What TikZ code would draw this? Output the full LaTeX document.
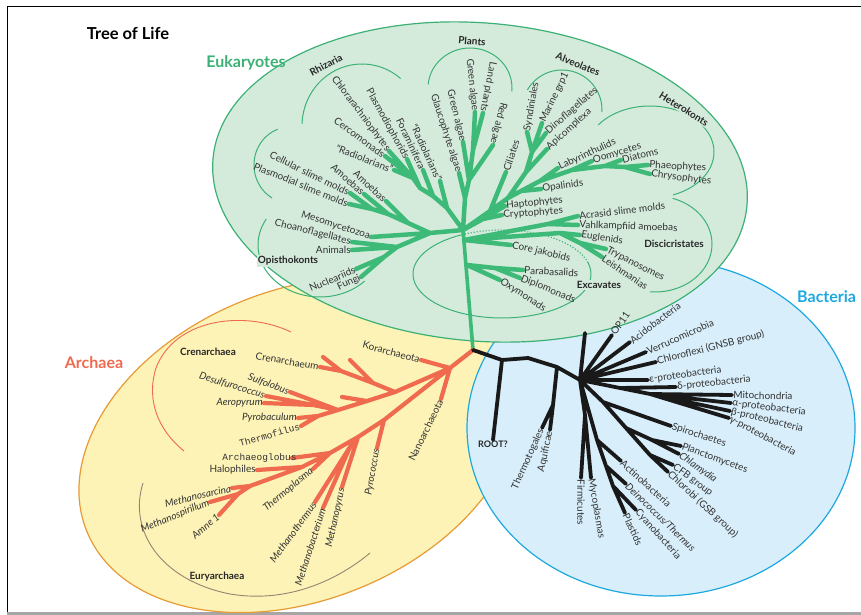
\documentclass[tikz,border=0pt]{standalone}
\usepackage{fontspec}
\setmainfont{Lato}
\newfontfamily\monof{Liberation Mono}
\definecolor{eukline}{HTML}{3DB075}
\definecolor{eukfill}{HTML}{D4EBDC}
\definecolor{eukbranch}{HTML}{3DBA78}
\definecolor{arcfill}{HTML}{FDF3B6}
\definecolor{arcline}{HTML}{E89A35}
\definecolor{arcbranch}{HTML}{EF6A4E}
\definecolor{bacfill}{HTML}{D8EEFA}
\definecolor{bacline}{HTML}{1EA8E0}
\definecolor{labcol}{HTML}{333333}
\definecolor{euryarc}{HTML}{9A8272}
\begin{document}
\begin{tikzpicture}[x=1pt,y=-1pt,
  eu/.style={draw=eukbranch, line width=4.5pt, line cap=round, line join=round},
  ar/.style={draw=arcbranch, line width=4.2pt, line cap=round, line join=round},
  ba/.style={draw=black!90, line width=3.8pt, line cap=round, line join=round},
  lab/.style={font=\fontsize{10}{12}\selectfont, text=labcol, inner sep=1.2pt},
  itl/.style={lab, font=\fontsize{10}{12}\selectfont\itshape},
  mono/.style={lab, font=\fontsize{9.5}{11}\selectfont\monof},
  grp/.style={font=\fontsize{10}{12}\selectfont\bfseries, text=black!85, inner sep=1pt},
  grparc/.style={draw=eukline, line width=1pt},
  dom/.style={font=\fontsize{16}{18}\selectfont\bfseries, inner sep=0pt}]
\path[use as bounding box] (0,0) rectangle (861,615);
\fill[white] (0,0) rectangle (861,615);
\draw[line width=1pt] (7,612) -- (7,7) -- (861,7);
\draw[gray!70, line width=3pt] (7,613.5) -- (861,613.5);

% domain ellipses
\filldraw[fill=arcfill, draw=arcline, line width=1.2pt, rotate around={22:(300,445)}] (300,445) ellipse [x radius=230pt, y radius=155pt];
\filldraw[fill=bacfill, draw=bacline, line width=1.2pt] (661,428) ellipse [x radius=194pt, y radius=168pt];
\filldraw[fill=eukfill, draw=eukline, line width=1.2pt, rotate around={-5:(480,182)}] (480,182) ellipse [x radius=268pt, y radius=159pt];

% group arcs (eukaryotes)
\draw[grparc] plot[variable=\t, domain=50:178, samples=40] ({362+60*cos(\t)},{126-62*sin(\t)});
\draw[grparc] plot[variable=\t, domain=110:240, samples=40] ({290+36*cos(\t)},{165-38*sin(\t)});
\draw[grparc] plot[variable=\t, domain=150:316, samples=40] ({320+62*cos(\t)},{245-52*sin(\t)});
\draw[grparc] plot[variable=\t, domain=-5:175, samples=40] ({470+42*cos(\t)},{88-40*sin(\t)});
\draw[grparc] plot[variable=\t, domain=-3:150, samples=40] ({562+40*cos(\t)},{110-40*sin(\t)});
\draw[grparc] plot[variable=\t, domain=-69:144, samples=50] ({650+64*cos(\t)},{152-46*sin(\t)});
\draw[grparc] plot[variable=\t, domain=-95:72, samples=50] ({655+57*cos(\t)},{244-48*sin(\t)});
\draw[grparc] plot[variable=\t, domain=116:375, samples=60] ({502+89*cos(\t)},{274-44*sin(\t)});
\draw[grparc, dotted, line width=1.3pt] plot[variable=\t, domain=15:116, samples=30] ({502+89*cos(\t)},{274-44*sin(\t)});

% group arcs (archaea)
\draw[draw=arcbranch, line width=0.9pt] (291,332) .. controls (245,310) and (175,318) .. (156,368) .. controls (146,400) and (158,430) .. (184,451);
\draw[draw=euryarc, line width=0.9pt] (143,483) .. controls (128,530) and (160,580) .. (230,594) .. controls (290,604) and (340,578) .. (370,553);

% ---------- coordinates: eukaryotes
\coordinate (J) at (473,350);
\coordinate (C) at (463,230);
\coordinate (A) at (430,233);
\coordinate (meso) at (371,237);
\coordinate (Op0) at (397,247);
\coordinate (choano) at (352,242);
\coordinate (animals) at (352,250);
\coordinate (Op1) at (384,257);
\coordinate (nucl) at (356,269);
\coordinate (fungi) at (361,277);
\coordinate (Am1) at (408,223);
\coordinate (amoA) at (386,201);
\coordinate (Am2) at (388,214);
\coordinate (amoB) at (364,194);
\coordinate (Am3) at (372,209);
\coordinate (cell) at (350,193);
\coordinate (plasmod) at (349,204);
\coordinate (R1) at (447,208);
\coordinate (radR) at (440,181);
\coordinate (R2) at (433,196);
\coordinate (foram) at (423,170);
\coordinate (R3) at (420,188);
\coordinate (plasmo) at (407,159);
\coordinate (R4) at (413,178);
\coordinate (chlor) at (389,151);
\coordinate (cerco) at (385,156);
\coordinate (radL) at (394,170);
\coordinate (P0) at (465,198);
\coordinate (glauco) at (459,173);
\coordinate (P1) at (469,180);
\coordinate (greenL) at (463,142);
\coordinate (red) at (493,145);
\coordinate (P2) at (473,150);
\coordinate (greenU) at (475,112);
\coordinate (land) at (483,113);
\coordinate (Hc) at (483,219);
\coordinate (hapto) at (505,206);
\coordinate (crypto) at (502,215);
\coordinate (H0) at (490,211);
\coordinate (cil) at (506,172);
\coordinate (H1) at (508,198);
\coordinate (Hm) at (521,191);
\coordinate (opal) at (541,189);
\coordinate (H2) at (540,181);
\coordinate (laby) at (558,168);
\coordinate (H3) at (572,170);
\coordinate (oomy) at (592,161);
\coordinate (H4) at (605,166);
\coordinate (diat) at (621,160);
\coordinate (H5) at (625,167);
\coordinate (phaeo) at (648,165);
\coordinate (chryso) at (650,174);
\coordinate (Al1) at (526,172);
\coordinate (apico) at (547,149);
\coordinate (Al2) at (532,152);
\coordinate (dino) at (546,133);
\coordinate (synd) at (527,132);
\coordinate (marine) at (542,123);
\coordinate (D0) at (464,240);
\coordinate (D1) at (548,224);
\coordinate (acr) at (578,216);
\coordinate (vahl) at (578,225);
\coordinate (D2) at (560,233);
\coordinate (eugl) at (580,235);
\coordinate (D3) at (580,243);
\coordinate (tryp) at (606,249);
\coordinate (leish) at (602,257);
\coordinate (jak) at (511,245);
\coordinate (E0) at (467,265);
\coordinate (E1) at (495,268);
\coordinate (parab) at (523,270);
\coordinate (diplo) at (520,278);
\coordinate (oxy) at (500,280);
% ---------- archaea
\coordinate (K0) at (450,368);
\coordinate (kor) at (421,360);
\coordinate (nano) at (441,399);
\coordinate (Cm1) at (395,392);
\coordinate (Cm2) at (367,401);
\coordinate (Cm3) at (338,410);
\coordinate (Cm4) at (318,416);
\coordinate (pyrob) at (298,418);
\coordinate (thermof) at (301,426);
\coordinate (sulf) at (290,392);
\coordinate (Cs) at (313,405);
\coordinate (desulf) at (266,396);
\coordinate (aero) at (264,403);
\coordinate (cx1) at (342,397);
\coordinate (Cc0) at (373,383);
\coordinate (Cc1) at (341,371);
\coordinate (cren) at (320,367);
\coordinate (cx2) at (350,360);
\coordinate (cx3) at (323,357);
\coordinate (Eu1) at (384,420);
\coordinate (Eu2) at (358,437);
\coordinate (Eu3) at (330,453);
\coordinate (Eu4) at (302,467);
\coordinate (Eu5) at (250,486);
\coordinate (pyroc) at (377,448);
\coordinate (mpyr) at (342,487);
\coordinate (Eu2b) at (350,447);
\coordinate (mbact) at (323,508);
\coordinate (mtherm) at (315,502);
\coordinate (tplas) at (313,469);
\coordinate (aglob) at (292,458);
\coordinate (aglobt) at (298,458);
\coordinate (halo) at (257,470);
\coordinate (msarc) at (232,488);
\coordinate (Eu6) at (238,494);
\coordinate (mspir) at (210,502);
\coordinate (amne) at (219,515);
% ---------- bacteria
\coordinate (Bb1) at (502,360);
\coordinate (Bb2) at (528,358);
\coordinate (Ba1) at (557,367);
\coordinate (B0) at (580,380);
\coordinate (root) at (493,440);
\coordinate (Ba2) at (553,405);
\coordinate (thermot) at (542,428);
\coordinate (aquif) at (550,430);
\coordinate (bx) at (585,333);
\coordinate (op11) at (612,335);
\coordinate (acido) at (630,342);
\coordinate (verru) at (646,352);
\coordinate (chlorof) at (656,362);
\coordinate (eps) at (648,380);
\coordinate (Pd) at (620,388);
\coordinate (delta) at (676,387);
\coordinate (Pa) at (650,394);
\coordinate (mito) at (732,395);
\coordinate (alpha) at (731,403);
\coordinate (beta) at (730,411);
\coordinate (gamma) at (729,418);
\coordinate (Bs) at (603,402);
\coordinate (spiro) at (671,426);
\coordinate (Bq) at (626,428);
\coordinate (Bp1) at (652,440);
\coordinate (plancto) at (681,446);
\coordinate (chlam) at (679,454);
\coordinate (Bc) at (650,455);
\coordinate (cfb) at (673,465);
\coordinate (chlorobi) at (668,472);
\coordinate (Bf) at (585,415);
\coordinate (firm) at (581,478);
\coordinate (myco) at (591,478);
\coordinate (Bd0) at (597,440);
\coordinate (actino) at (621,461);
\coordinate (Bd1) at (606,466);
\coordinate (deino) at (626,484);
\coordinate (Bd2) at (613,486);
\coordinate (cyano) at (636,510);
\coordinate (plastid) at (625,513);

% ---------- branches
\draw[eu, line width=3.6pt] (J)--(C);
\draw[eu] (C)--(A) (A)--(meso) (A)--(Op0) (Op0)--(choano) (Op0)--(animals) (Op0)--(Op1) (Op1)--(nucl) (Op1)--(fungi)
 (A)--(Am1) (Am1)--(amoA) (Am1)--(Am2) (Am2)--(amoB) (Am2)--(Am3) (Am3)--(cell) (Am3)--(plasmod)
 (C)--(R1) (R1)--(radR) (R1)--(R2) (R2)--(foram) (R2)--(R3) (R3)--(plasmo) (R3)--(R4) (R4)--(chlor) (R4)--(cerco) (R4)--(radL)
 (C)--(P0) (P0)--(glauco) (P0)--(P1) (P1)--(greenL) (P1)--(red) (P1)--(P2) (P2)--(greenU) (P2)--(land)
 (C)--(Hc) (Hc)--(hapto) (Hc)--(crypto)
 (C)--(H0) (H0)--(cil) (H0)--(H1) (H1)--(Al1) (Al1)--(apico) (Al1)--(Al2) (Al2)--(dino) (Al2)--(synd) (Al2)--(marine)
 (H1)--(Hm) (Hm)--(opal) (Hm)--(H2) (H2)--(laby) (H2)--(H3) (H3)--(oomy) (H3)--(H4) (H4)--(diat) (H4)--(H5) (H5)--(phaeo) (H5)--(chryso)
 (D0)--(D1) (D1)--(acr) (D1)--(vahl) (D0)--(D2) (D2)--(eugl) (D2)--(D3) (D3)--(tryp) (D3)--(leish)
 (D0)--(jak) (E0)--(E1) (E1)--(parab) (E1)--(diplo) (E0)--(oxy);

\draw[ar] (J)--(K0) (K0)--(kor) (K0)--(nano) (K0)--(Cm1) (Cm1)--(Cm2) (Cm2)--(Cm3) (Cm3)--(Cm4) (Cm4)--(pyrob) (Cm4)--(thermof)
 (Cm3)--(sulf) (Cm3)--(Cs) (Cs)--(desulf) (Cs)--(aero) (Cm2)--(cx1) (Cm1)--(Cc0) (Cc0)--(Cc1) (Cc1)--(cren) (Cc0)--(cx2) (Cc1)--(cx3)
 (K0)--(Eu1) (Eu1)--(Eu2) (Eu2)--(Eu3) (Eu3)--(Eu4) (Eu4)--(Eu5) (Eu1)--(pyroc) (Eu2)--(mpyr) (Eu2)--(Eu2b) (Eu2b)--(mbact) (Eu2b)--(mtherm)
 (Eu3)--(tplas) (Eu3)--(aglob) (Eu4)--(halo) (Eu5)--(msarc) (Eu5)--(Eu6) (Eu6)--(mspir) (Eu6)--(amne);

\draw[ba] (J)--(Bb1) (Bb1)--(Bb2) (Bb2)--(Ba1) (Ba1)--(B0) (Bb1)--(root) (Ba1)--(Ba2) (Ba2)--(thermot) (Ba2)--(aquif)
 (B0)--(bx) (B0)--(op11) (B0)--(acido) (B0)--(verru) (B0)--(chlorof) (B0)--(eps) (B0)--(Pd) (Pd)--(delta) (Pd)--(Pa)
 (Pa)--(mito) (Pa)--(alpha) (Pa)--(beta) (Pa)--(gamma)
 (B0)--(Bs) (Bs)--(spiro) (Bs)--(Bq) (Bq)--(Bp1) (Bp1)--(plancto) (Bp1)--(chlam) (Bq)--(Bc) (Bc)--(cfb) (Bc)--(chlorobi)
 (B0)--(Bf) (Bf)--(firm) (Bf)--(myco) (B0)--(Bd0) (Bd0)--(actino) (Bd0)--(Bd1) (Bd1)--(deino) (Bd1)--(Bd2) (Bd2)--(cyano) (Bd2)--(plastid);

% ---------- titles
\node[font=\fontsize{16.5}{18}\selectfont\bfseries, inner sep=0pt] (title) at (128,33) {Tree of Life};
\node[dom, text=eukline] (eukl) at (246,63) {Eukaryotes};
\node[dom, text=arcbranch] (arcl) at (94,363) {Archaea};
\node[dom, text=bacline, anchor=west] (bacl) at (797,297) {Bacteria};

% ---------- group labels
\node[grp, fill=eukfill, rotate=28] (gRhiz) at (326,65) {Rhizaria};
\node[grp, fill=eukfill, rotate=-5] (gPlants) at (472,41) {Plants};
\node[grp, fill=eukfill, rotate=-22] (gAlv) at (578,64) {Alveolates};
\node[grp, fill=eukfill, rotate=-32] (gHet) at (684,109) {Heterokonts};
\node[grp, fill=eukfill] (gDisc) at (674,244) {Discicristates};
\node[grp, fill=eukfill] (gExc) at (599,285) {Excavates};
\node[grp, fill=eukfill] (gOpi) at (288,261) {Opisthokonts};
\node[grp] (gCren) at (208,352) {Crenarchaea};
\node[grp] (gEury) at (217,577) {Euryarchaea};
\node[grp, font=\fontsize{9}{10}\selectfont\bfseries, anchor=north] (groot) at (root) {ROOT?};

% ---------- eukaryote labels
\node[lab, anchor=east, rotate=-18] at (meso) {Mesomycetozoa};
\node[lab, anchor=east, rotate=-14] at (choano) {Choanoflagellates};
\node[lab, anchor=east] at (animals) {Animals};
\node[lab, anchor=east, rotate=23] at (nucl) {Nucleariids};
\node[lab, anchor=east, rotate=25] at (fungi) {Fungi};
\node[lab, anchor=east, rotate=-43] at (amoA) {Amoebas};
\node[lab, anchor=east, rotate=-42] at (amoB) {Amoebas};
\node[lab, anchor=east, rotate=-26] at (cell) {Cellular slime molds};
\node[lab, anchor=east, rotate=-22] at (plasmod) {Plasmodial slime molds};
\node[lab, anchor=east, rotate=-65] at (radR) {``Radiolarians''};
\node[lab, anchor=east, rotate=-65] at (foram) {Foraminifera};
\node[lab, anchor=east, rotate=-61] at (plasmo) {Plasmodiophorids};
\node[lab, anchor=east, rotate=-53] at (chlor) {Chlorarachniophytes};
\node[lab, anchor=east, rotate=-36] at (cerco) {Cercomonads};
\node[lab, anchor=east, rotate=-21] at (radL) {``Radiolarians''};
\node[lab, anchor=east, rotate=-72] at (glauco) {Glaucophyte algae};
\node[lab, anchor=east, rotate=-76] at (greenL) {Green algae};
\node[lab, anchor=east, rotate=-84] at (greenU) {Green algae};
\node[lab, anchor=east, rotate=-101] at (land) {Land plants};
\node[lab, anchor=east, rotate=-104] at (red) {Red algae};
\node[lab, anchor=west, rotate=72] at (cil) {Ciliates};
\node[lab, anchor=west, rotate=80] at (synd) {Syndiniales};
\node[lab, anchor=west, rotate=64] at (marine) {Marine grp1};
\node[lab, anchor=west, rotate=41] at (dino) {Dinoflagellates};
\node[lab, anchor=west, rotate=42] at (apico) {Apicomplexa};
\node[lab, anchor=west, rotate=25] at (laby) {Labyrinthulids};
\node[lab, anchor=west, rotate=17] at (oomy) {Oomycetes};
\node[lab, anchor=west, rotate=14] at (diat) {Diatoms};
\node[lab, anchor=west, rotate=-3] at (phaeo) {Phaeophytes};
\node[lab, anchor=west, rotate=-7] at (chryso) {Chrysophytes};
\node[lab, anchor=west, rotate=8] at (opal) {Opalinids};
\node[lab, anchor=west, rotate=6] at (hapto) {Haptophytes};
\node[lab, anchor=west, rotate=4] at (crypto) {Cryptophytes};
\node[lab, anchor=west, rotate=7] at (acr) {Acrasid slime molds};
\node[lab, anchor=west, rotate=-2] at (vahl) {Vahlkampfiid amoebas};
\node[lab, anchor=west, rotate=-8] at (eugl) {Euglenids};
\node[lab, anchor=west, rotate=-27] at (tryp) {Trypanosomes};
\node[lab, anchor=west, rotate=-34] at (leish) {Leishmanias};
\node[lab, anchor=west, rotate=-13] at (jak) {Core jakobids};
\node[lab, anchor=west, rotate=-3] at (parab) {Parabasalids};
\node[lab, anchor=west, rotate=-22] at (diplo) {Diplomonads};
\node[lab, anchor=west, rotate=-33] at (oxy) {Oxymonads};

% ---------- archaea labels
\node[lab, anchor=east, rotate=-15] at (kor) {Korarchaeota};
\node[lab, anchor=east, rotate=64] at (nano) {Nanoarchaeota};
\node[lab, anchor=east, rotate=-10] at (cren) {Crenarchaeum};
\node[itl, anchor=east, rotate=-20] at (sulf) {Sulfolobus};
\node[itl, anchor=east, rotate=-17] at (desulf) {Desulfurococcus};
\node[itl, anchor=east] at (aero) {Aeropyrum};
\node[itl, anchor=east] at (pyrob) {Pyrobaculum};
\node[mono, anchor=east, rotate=16] at (thermof) {Thermofilus};
\node[itl, anchor=east, rotate=80] at (pyroc) {Pyrococcus};
\node[itl, anchor=east, rotate=78] at (mpyr) {Methanopyrus};
\node[itl, anchor=east, rotate=72] at (mbact) {Methanobacterium};
\node[itl, anchor=east, rotate=54] at (mtherm) {Methanothermus};
\node[itl, anchor=east, rotate=40] at (tplas) {Thermoplasma};
\node[mono, anchor=east] at (aglobt) {Archaeoglobus};
\node[lab, anchor=east] at (halo) {Halophiles};
\node[itl, anchor=east, rotate=13] at (msarc) {Methanosarcina};
\node[itl, anchor=east, rotate=22] at (mspir) {Methanospirillum};
\node[itl, anchor=east, rotate=40] at (amne) {Amne 1};

% ---------- bacteria labels
\node[lab, anchor=east, rotate=66] at (thermot) {Thermotogales};
\node[lab, anchor=east, rotate=78] at (aquif) {Aquificae};
\node[lab, anchor=west, rotate=55] at (op11) {OP11};
\node[lab, anchor=west, rotate=37] at (acido) {Acidobacteria};
\node[lab, anchor=west, rotate=24] at (verru) {Verrucomicrobia};
\node[lab, anchor=west, rotate=14.5] at (chlorof) {Chloroflexi (GNSB group)};
\node[lab, anchor=west, rotate=8] at (eps) {ε-proteobacteria};
\node[lab, anchor=west, rotate=6] at (delta) {δ-proteobacteria};
\node[lab, anchor=west, rotate=-1] at (mito) {Mitochondria};
\node[lab, anchor=west, rotate=-7] at (alpha) {α-proteobacteria};
\node[lab, anchor=west, rotate=-14] at (beta) {β-proteobacteria};
\node[lab, anchor=west, rotate=-28] at (gamma) {γ-proteobacteria};
\node[lab, anchor=west, rotate=-18] at (spiro) {Spirochaetes};
\node[lab, anchor=west, rotate=-20] at (plancto) {Planctomycetes};
\node[itl, anchor=west, rotate=-36] at (chlam) {Chlamydia};
\node[lab, anchor=west, rotate=-37] at (cfb) {CFB group};
\node[lab, anchor=west, rotate=-43] at (chlorobi) {Chlorobi (GSB group)};
\node[lab, anchor=west, rotate=-90] at (firm) {Firmicutes};
\node[lab, anchor=west, rotate=-80] at (myco) {Mycoplasmas};
\node[lab, anchor=west, rotate=-42] at (actino) {Actinobacteria};
\node[itl, anchor=west, rotate=-44] at (deino) {Deinococcus/Thermus};
\node[lab, anchor=west, rotate=-48] at (cyano) {Cyanobacteria};
\node[lab, anchor=west, rotate=-65] at (plastid) {Plastids};
\end{tikzpicture}
\end{document}
